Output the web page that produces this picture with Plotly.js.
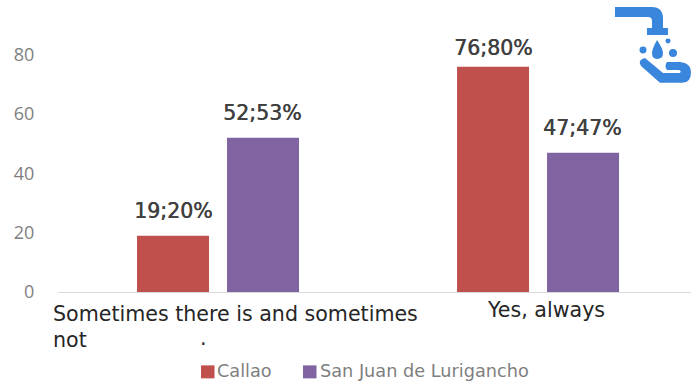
<!DOCTYPE html>
<html>
<head>
<meta charset="utf-8">
<script src="https://cdn.plot.ly/plotly-3.0.1.min.js"></script>
<style>html,body{margin:0;padding:0;background:#fff}#chart{width:691px;height:385px}</style>
</head>
<body>
<div id="chart"></div>
<script>
// Water availability by district
const categories = ["Sometimes there is and sometimes not", "Yes, always"];
const seriesNames = ["Callao", "San Juan de Lurigancho"];
const callaoCounts = [19, 76];
const callaoPercents = [20, 80];
const sjlCounts = [52, 47];
const sjlPercents = [53, 47];
const yTicks = [0, 20, 40, 60, 80];
const seriesColors = ["#c0504d", "#8064a2"];

const W = 691, H = 385, ML = 58, MB = 92.5;
const WIDE = '"DejaVu Sans", sans-serif';
const TICK = '"Open Sans", sans-serif';
const px = x => (x - ML) / (W - ML);   // page pixels to paper coordinates
const py = y => 1 - y / (H - MB);

const makeBar = (name, counts, color) => ({
  type: "bar", name, x: categories, y: counts, marker: {color}, hoverinfo: "skip"
});

// Value labels sit above their bars, one per series
const BAR_OFFSET = 0.14;
const valueLabels = (counts, percents, offset) => counts.map((c, i) => ({
  text: c + ";" + percents[i] + "%", x: i + offset, y: c, xref: "x", yref: "y",
  xanchor: "center", yanchor: "middle", yshift: c > 70 ? 19 : 24.5, showarrow: false,
  font: {family: WIDE, size: 20.5, color: "#404040", shadow: "0.5px 0 0 #404040"}
}));

// Faucet, droplets and open hand drawn as vector shapes
const iconColor = "#3a86dc";
const P = (x, y) => px(x).toFixed(4) + "," + py(y).toFixed(4);
const pathOf = segs => segs.map(s => s[0] + s.slice(1).map(q => P(q[0], q[1])).join(" ")).join(" ") + " Z";
const faucet = pathOf([["M",[615,7]],["L",[652,7]],["Q",[663,7],[663,19]],["L",[663,28]],["L",[668,28]],["L",[668,35]],["L",[647,35]],["L",[647,28]],["L",[652,28]],["L",[652,21]],["Q",[652,17],[648,17]],["L",[615,17]]]);
const drop = pathOf([["M",[657,40]],["Q",[663,49],[663,53]],["Q",[663,59],[657,59]],["Q",[652,59],[652,53]],["Q",[652,49],[657,40]]]);
const hand = pathOf([["M",[645,58]],["L",[663,73]],["L",[680,73]],["Q",[682,70],[678,70]],["L",[667,70]],["Q",[664,66],[667,62]],["L",[680,62]],["Q",[691,63],[691,72]],["Q",[691,83],[682,83]],["L",[660,83]],["L",[641,66]],["Q",[637,60],[645,58]]]);
const dots = [[643,50,3.5],[673,53,4],[668,41,2.5]];

const paperShape = {xref: "paper", yref: "paper", line: {width: 0}};
const iconShapes = [faucet, drop, hand].map(path => ({
  ...paperShape, type: "path", path, fillcolor: iconColor
})).concat(dots.map(d => ({
  ...paperShape, type: "circle", x0: px(d[0] - d[2]), x1: px(d[0] + d[2]),
  y0: py(d[1] + d[2]), y1: py(d[1] - d[2]), fillcolor: iconColor
})));

// Legend row: swatch plus label for each series
const legendX = [201, 303];
const legendSwatches = seriesNames.map((_, i) => ({
  ...paperShape, type: "rect", x0: px(legendX[i]), x1: px(legendX[i] + 13.5),
  y0: py(379), y1: py(366), fillcolor: seriesColors[i]
}));

const pageLabel = (text, x, y, xanchor, font) => ({
  text, x: px(x), y: py(y), xref: "paper", yref: "paper", xanchor, yanchor: "middle",
  showarrow: false, font
});
const catFont = {family: WIDE, size: 20.6, color: "#262626"};
const legendFont = {family: WIDE, size: 17.7, color: "#7f7f7f"};

const layout = {
  width: W, height: H,
  margin: {l: ML, r: 0, t: 0, b: MB, pad: 0},
  paper_bgcolor: "#fff", plot_bgcolor: "#fff",
  barmode: "group", bargap: 0.4375, bargroupgap: 0.2,
  showlegend: false,
  xaxis: {type: "category", categoryarray: categories, range: [-0.5, 1.478], showticklabels: false,
          ticks: "", showgrid: false, zeroline: false, showline: true, linecolor: "#d9d9d9", linewidth: 1},
  yaxis: {range: [0, 98.5], tickvals: yTicks, ticktext: yTicks.map(String), showgrid: false,
          zeroline: false, showline: false, ticks: "outside", ticklen: 19, tickcolor: "rgba(0,0,0,0)",
          tickfont: {family: TICK, size: 18, color: "#7f7f7f"}},
  shapes: iconShapes.concat(legendSwatches),
  annotations: [
    ...valueLabels(callaoCounts, callaoPercents, -BAR_OFFSET),
    ...valueLabels(sjlCounts, sjlPercents, BAR_OFFSET),
    pageLabel("Sometimes there is and sometimes", 51, 315, "left", catFont),
    pageLabel("not", 51, 341, "left", catFont),
    pageLabel(".", 203, 339, "center", catFont),
    pageLabel(categories[1], 546, 311, "center", catFont),
    pageLabel(seriesNames[0], 215, 372, "left", legendFont),
    pageLabel(seriesNames[1], 318, 372, "left", legendFont)
  ]
};

Plotly.newPlot("chart", [
  makeBar(seriesNames[0], callaoCounts, seriesColors[0]),
  makeBar(seriesNames[1], sjlCounts, seriesColors[1])
], layout, {displayModeBar: false, staticPlot: true});
</script>
</body>
</html>
